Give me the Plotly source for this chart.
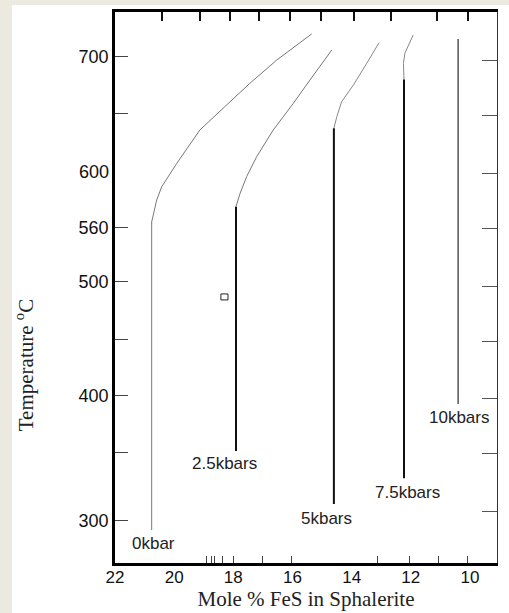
import plotly.graph_objects as go

# ---------------- data ----------------
pressures = ["0kbar", "2.5kbars", "5kbars", "7.5kbars", "10kbars"]

# curved (upper) parts, mole % FeS vs temperature
curve_fes = [
    [20.76, 20.76, 20.59, 20.42, 19.91, 19.13, 18.11, 17.44, 16.53, 15.35],
    [17.91, 17.77, 17.55, 17.21, 16.65, 15.97, 15.41, 14.67],
    [14.60, 14.50, 14.34, 13.94, 13.49, 13.07],
    [12.23, 12.25, 12.20, 12.08, 11.92],
    [],
]
curve_t = [
    [281.4, 554.0, 573.5, 585.2, 605.9, 635.4, 660.4, 676.7, 697.3, 720.4],
    [567.5, 579.4, 594.1, 611.8, 635.4, 659.0, 679.6, 706.2],
    [636.9, 647.2, 660.4, 675.2, 694.4, 712.7],
    [680.0, 694.4, 703.3, 710.6, 719.5],
    [],
]
# straight (lower) parts
vert_fes = [[20.76, 20.76], [17.91, 17.91], [14.60, 14.60], [12.23, 12.23], [10.40, 10.40]]
vert_t = [[281.4, 281.4], [351.3, 567.5], [304.4, 636.9], [327.2, 680.0], [393.0, 715.9]]

box_fes = [18.42, 18.18]
box_t = [485.0, 490.3]

x_labels = [22, 20, 18, 16, 14, 12, 10]
x_bottom_ticks = [18.92, 18.75, 18.62, 18.35, 18.01, 17.03, 16.02, 13.11, 12.03, 11.05, 10.07]
x_top_ticks = [20.41, 19.13, 18.11, 17.13, 16.08, 15.04, 13.92, 12.67, 11.11, 10.07]
y_left_ticks = [289.4, 349.6, 400.0, 450.4, 500.9, 548.7, 650.4, 700.0]
y_left_text = ["300", "", "400", "", "500", "560", "", "700"]
y_extra_tick = [598.2]
y_extra_text = ["600"]
y_right_ticks = [697.0, 648.0, 597.0, 548.0, 497.0, 448.0, 398.0, 349.0, 298.0]

# ---------------- styles ----------------
curve_color = ["#777777", "#777777", "#888888", "#888888", "#555555"]
vert_color = ["#888888", "#111111", "#111111", "#111111", "#555555"]
vert_width = [1, 2, 2, 2, 1.5]
label_dx = [2, -11, -7, 3, 1]
label_dy = [-13, -12, -14, -14, -14]

XR = [22, 9.086]
YR = [252.2, 739.8]
SANS = "Liberation Sans, Arial, sans-serif"
SERIF = "Liberation Serif, Times New Roman, serif"

fig = go.Figure()
for i, name in enumerate(pressures):
    if curve_fes[i]:
        fig.add_trace(go.Scatter(x=curve_fes[i], y=curve_t[i], mode="lines",
                                 line=dict(color=curve_color[i], width=1),
                                 showlegend=False, hoverinfo="skip"))
    fig.add_trace(go.Scatter(x=vert_fes[i], y=vert_t[i], mode="lines",
                             line=dict(color=vert_color[i], width=vert_width[i]),
                             showlegend=False, name=name))
    fig.add_annotation(x=vert_fes[i][0], y=vert_t[i][0], text=name, showarrow=False,
                       xanchor="center", yanchor="middle",
                       xshift=label_dx[i], yshift=label_dy[i],
                       font=dict(family=SANS, size=17, color="#222222"))

# invisible traces to keep the helper axes alive
for xa, ya in [("x2", "y"), ("x3", "y"), ("x", "y2"), ("x", "y3")]:
    fig.add_trace(go.Scatter(x=[15], y=[500], xaxis=xa, yaxis=ya, mode="markers",
                             marker=dict(opacity=0), showlegend=False, hoverinfo="skip"))

# small open box
fig.add_shape(type="rect", xref="x", yref="y", x0=box_fes[0], x1=box_fes[1],
              y0=box_t[0], y1=box_t[1], line=dict(color="#222222", width=1))

# y-axis title (placed lower than centre, as in the original)
fig.add_annotation(xref="paper", yref="paper", x=-0.238, y=0.359,
                   text="Temperature <sup>o</sup>C", textangle=-90, showarrow=False,
                   xanchor="center", yanchor="middle",
                   font=dict(family=SERIF, size=21, color="#222222"))

# beige border strips (outside the white page)
beige = "#ebe9e0"
fig.add_shape(type="rect", xref="paper", yref="paper", x0=-0.4, x1=-0.2696,
              y0=-0.2, y1=1.1, fillcolor=beige, line=dict(width=0), layer="below")
fig.add_shape(type="rect", xref="paper", yref="paper", x0=-0.4, x1=1.1,
              y0=1.0127, y1=1.1, fillcolor=beige, line=dict(width=0), layer="below")

fig.update_layout(
    width=509, height=613, autosize=False,
    margin=dict(l=115, r=12, t=12, b=50),
    paper_bgcolor="white", plot_bgcolor="white",
    showlegend=False,
    xaxis=dict(range=XR, showgrid=False, zeroline=False, showline=True, automargin=False,
               linecolor="black", linewidth=2.5, ticks="", tickvals=x_labels,
               ticktext=[str(v) for v in x_labels], ticklabelstandoff=-3,
               tickfont=dict(family=SANS, size=17, color="#111111"),
               title=dict(text="Mole % FeS in Sphalerite", standoff=6,
                          font=dict(family=SERIF, size=21, color="#222222"))),
    xaxis2=dict(range=XR, overlaying="x", side="bottom", anchor="y", automargin=False,
                showgrid=False, zeroline=False, showline=False, ticks="inside",
                ticklen=7, tickwidth=1, tickcolor="#444444",
                tickvals=x_bottom_ticks, showticklabels=False),
    xaxis3=dict(range=XR, overlaying="x", side="top", anchor="y", automargin=False,
                showgrid=False, zeroline=False, showline=True, linecolor="black",
                linewidth=2.5, ticks="inside", ticklen=9, tickwidth=1.5,
                tickcolor="#111111", tickvals=x_top_ticks, showticklabels=False),
    yaxis=dict(range=YR, showgrid=False, zeroline=False, showline=True, automargin=False,
               linecolor="black", linewidth=2.5, ticks="inside", ticklen=13,
               tickwidth=1, tickcolor="#444444", tickvals=y_left_ticks,
               ticktext=y_left_text, ticklabelstandoff=0,
               tickfont=dict(family=SANS, size=18, color="#111111")),
    yaxis2=dict(range=YR, overlaying="y", side="left", anchor="x", automargin=False,
                showgrid=False, zeroline=False, showline=False, ticks="",
                tickvals=y_extra_tick, ticktext=y_extra_text, ticklabelstandoff=5,
                tickfont=dict(family=SANS, size=18, color="#111111")),
    yaxis3=dict(range=YR, overlaying="y", side="right", anchor="x", automargin=False,
                showgrid=False, zeroline=False, showline=True, linecolor="#333333",
                linewidth=1, ticks="inside", ticklen=15, tickwidth=1,
                tickcolor="#555555", tickvals=y_right_ticks, showticklabels=False),
)

fig.write_html("out.html", config={"displayModeBar": False},
               post_script="document.body.style.margin='0';document.body.style.padding='0';")
